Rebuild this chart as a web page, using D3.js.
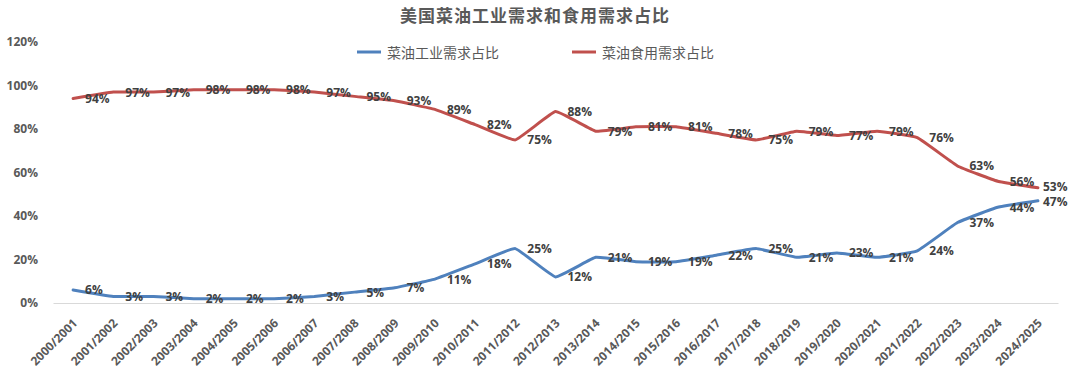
<!DOCTYPE html>
<html><head><meta charset="utf-8">
<script src="https://cdn.jsdelivr.net/npm/d3@7/dist/d3.min.js"></script>
<style>body{margin:0;background:#fff;}svg{display:block;}</style>
</head><body>
<svg id="c" width="1070" height="386"></svg>
<script>
const categories = ["2000/2001","2001/2002","2002/2003","2003/2004","2004/2005","2005/2006","2006/2007","2007/2008","2008/2009","2009/2010","2010/2011","2011/2012","2012/2013","2013/2014","2014/2015","2015/2016","2016/2017","2017/2018","2018/2019","2019/2020","2020/2021","2021/2022","2022/2023","2023/2024","2024/2025"];
const industrial = [6,3,3,2,2,2,3,5,7,11,18,25,12,21,19,19,22,25,21,23,21,24,37,44,47];
const food = [94,97,97,98,98,98,97,95,93,89,82,75,88,79,81,81,78,75,79,77,79,76,63,56,53];
const yTicks = [0,20,40,60,80,100,120];
const seriesNames = ["菜油工业需求占比","菜油食用需求占比"];
const title = "美国菜油工业需求和食用需求占比";
const colors = ["#4F81BD","#C0504D"];

const svg = d3.select("#c");
const W = 1070, H = 386;
const pLeft = 53, pRight = 1058, pTop = 42, pBottom = 303;
const x = d3.scaleBand().domain(categories).range([pLeft, pRight]);
const y = d3.scaleLinear().domain([0,120]).range([pBottom, pTop]);
const cx = d => x(d) + x.bandwidth()/2;
const numFont = "'Open Sans', 'Liberation Sans', sans-serif";
const cjkFont = "'Noto Sans CJK SC', sans-serif";

// title
svg.append("text").attr("x", W/2).attr("y", 14).attr("text-anchor","middle")
  .attr("dominant-baseline","central").attr("font-family", cjkFont)
  .attr("font-size", 17).attr("font-weight", 700).attr("letter-spacing", 1)
  .attr("fill", "#595959").text(title);

// y axis labels
const yAxis = d3.axisLeft(y).tickValues(yTicks).tickSize(0).tickPadding(0).tickFormat(d => d + "%");
const yg = svg.append("g").attr("transform", `translate(${pLeft-15},0)`).call(yAxis);
yg.select(".domain").remove();
yg.selectAll("text").attr("font-family", numFont).attr("font-size", 12).attr("font-weight", 700).attr("fill", "#595959");

// baseline + category labels
const xAxis = d3.axisBottom(x).tickSize(0).tickPadding(0);
const xg = svg.append("g").attr("transform", `translate(0,${pBottom})`).call(xAxis);
xg.select(".domain").attr("stroke", "#d9d9d9").attr("stroke-width", 1);
xg.selectAll(".tick text")
  .attr("font-family", numFont).attr("font-size", 12).attr("font-weight", 700).attr("fill", "#595959")
  .attr("text-anchor", "end").attr("dy", null).attr("y", null)
  .attr("transform", "translate(5,21) rotate(-45)");

// lines
const line = d3.line().x((d,i) => cx(categories[i])).y(d => y(d)).curve(d3.curveCardinal.tension(0.7));
[industrial, food].forEach((vals, s) => {
  svg.append("path").datum(vals).attr("d", line).attr("fill","none")
    .attr("stroke", colors[s]).attr("stroke-width", 3).attr("stroke-linejoin","round").attr("stroke-linecap","round");
});

// labels
[industrial, food].forEach((vals, s) => {
  const last = vals.length - 1;
  svg.append("g").selectAll("text").data(vals).join("text")
    .attr("x", (d,i) => Math.min(cx(categories[i]) + 12, W - 27))
    .attr("y", (d,i) => y(d) + (i === last ? (s === 0 ? 1 : -1) : 0)).attr("dominant-baseline", "central")
    .attr("font-family", numFont).attr("font-size", 12).attr("font-weight", 700).attr("fill", "#404040")
    .text(d => d + "%");
});

// legend
const legendItems = [{x:357, tx:387},{x:572, tx:602}];
legendItems.forEach((it, s) => {
  svg.append("line").attr("x1", it.x).attr("x2", it.x + 24).attr("y1", 52).attr("y2", 52)
    .attr("stroke", colors[s]).attr("stroke-width", 3);
  svg.append("text").attr("x", it.tx).attr("y", 52).attr("dominant-baseline","central")
    .attr("font-family", cjkFont).attr("font-size", 14).attr("fill", "#595959").text(seriesNames[s]);
});
</script>
</body></html>
